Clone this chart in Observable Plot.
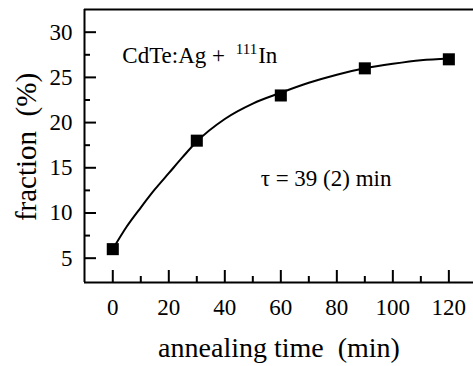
<!DOCTYPE html>
<html><head><meta charset="utf-8">
<script src="https://cdn.jsdelivr.net/npm/d3@7"></script>
<script src="https://cdn.jsdelivr.net/npm/@observablehq/plot@0.6"></script>
<style>
body{margin:0;background:#fff}
svg{display:block}
#chart svg, #chart svg text{font-family:"Liberation Serif","Times New Roman",serif !important;font-variant-numeric:normal !important;}
</style>
</head><body><div id="chart"></div>
<script>
const times = [0, 30, 60, 90, 120];
const fractions = [6, 18, 23, 26, 27];
// fitted curve (tau = 39 min)
const curveTimes = [0, 5, 10, 15, 20, 25, 30, 40, 50, 60, 70, 80, 90, 100, 110, 120];
const curveFractions = [6, 8.5, 10.6, 12.6, 14.4, 16.2, 17.9, 20.4, 22.1, 23.3, 24.4, 25.3, 26.0, 26.5, 26.9, 27.1];
const xMajorTicks = [0, 20, 40, 60, 80, 100, 120];
const xMinorTicks = [10, 30, 50, 70, 90, 110];
const yMajorTicks = [5, 10, 15, 20, 25, 30];
const yMinorTicks = [7.5, 12.5, 17.5, 22.5, 27.5];
const xDomain = [-10.1, 128.8];
const yDomain = [2.31, 32.51];
const xLabel = "annealing time\u00a0 (min)";
const yLabel = "fraction\u00a0 (%)";
const sampleMain = "CdTe:Ag + ";
const sampleIsotope = "111";
const sampleElement = "In";
const tauText = "\u03c4 = 39 (2) min";
const annotationText = [sampleMain + sampleIsotope + sampleElement, tauText];
const annotationX = [3.4, 52.8];
const annotationY = [26.6, 13.0];

const points = times.map((t, i) => ({t, f: fractions[i]}));
const curve = curveTimes.map((t, i) => ({t, f: curveFractions[i]}));
const annotations = annotationText.map((text, i) => ({text, x: annotationX[i], y: annotationY[i]}));

const W = 473, H = 366, mL = 84, mR = 0, mT = 9, mB = 84;
const fw = W - mL - mR, fh = H - mT - mB;
const serif = "Liberation Serif";

const chart = Plot.plot({
  width: W, height: H,
  marginLeft: mL, marginRight: mR, marginTop: mT, marginBottom: mB,
  style: {fontFamily: serif, fontSize: "23px", color: "#000", background: "#fff"},
  x: {domain: xDomain},
  y: {domain: yDomain},
  marks: [
    Plot.axisX(xMajorTicks, {tickSize: 0, tickPadding: 16, fontSize: 23, fontFamily: serif, label: null}),
    Plot.axisY(yMajorTicks, {tickSize: 0, tickPadding: 12, fontSize: 23, fontFamily: serif, label: null}),
    Plot.ruleY([yDomain[0], yDomain[1]], {stroke: "#000", strokeWidth: 2}),
    Plot.ruleX([xDomain[0]], {stroke: "#000", strokeWidth: 2}),
    Plot.tickX(xMajorTicks, {x: d => d, insetTop: fh - 12, stroke: "#000", strokeWidth: 2}),
    Plot.tickX(xMinorTicks, {x: d => d, insetTop: fh - 6, stroke: "#000", strokeWidth: 2}),
    Plot.tickY(yMajorTicks, {y: d => d, insetRight: fw - 12, stroke: "#000", strokeWidth: 2}),
    Plot.tickY(yMinorTicks, {y: d => d, insetRight: fw - 6, stroke: "#000", strokeWidth: 2}),
    Plot.line(curve, {x: "t", y: "f", curve: "monotone-x", stroke: "#000", strokeWidth: 2}),
    Plot.dot(points, {x: "t", y: "f", symbol: "square", r: 6.8, fill: "#000", stroke: null}),
    Plot.text(annotations, {x: "x", y: "y", text: "text", textAnchor: "start", lineAnchor: "bottom", fontSize: 23, fontFamily: serif, fill: "#000"}),
    Plot.text([xLabel], {text: d => d, frameAnchor: "bottom", textAnchor: "middle", dy: 74.7, lineAnchor: "bottom", fontSize: 28, fontFamily: serif, fill: "#000"}),
    Plot.text([yLabel], {text: d => d, frameAnchor: "left", textAnchor: "middle", rotate: -90, dx: -49, dy: 1, lineAnchor: "bottom", fontSize: 29, fontFamily: serif, fill: "#000"})
  ]
});

// superscript the isotope mass number
const ns = "http://www.w3.org/2000/svg";
chart.querySelectorAll("text").forEach(t => {
  if (t.textContent === annotationText[0]) {
    t.textContent = "";
    const a = document.createElementNS(ns, "tspan");
    a.textContent = sampleMain;
    const b = document.createElementNS(ns, "tspan");
    b.textContent = sampleIsotope;
    b.setAttribute("font-size", "15");
    b.setAttribute("dy", "-9");
    b.setAttribute("dx", "5");
    const c = document.createElementNS(ns, "tspan");
    c.textContent = sampleElement;
    c.setAttribute("dy", "9");
    c.setAttribute("dx", "1");
    t.append(a, b, c);
  }
});
document.getElementById("chart").append(chart);
</script>
</body></html>
